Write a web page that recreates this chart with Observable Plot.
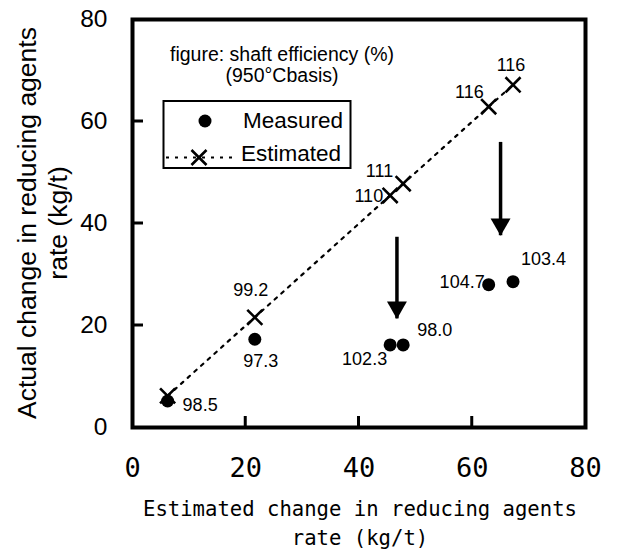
<!DOCTYPE html>
<html>
<head>
<meta charset="utf-8">
<script src="https://cdn.jsdelivr.net/npm/d3@7"></script>
<script src="https://cdn.jsdelivr.net/npm/@observablehq/plot@0.6"></script>
<style>
  html, body { margin: 0; padding: 0; background: #fff; }
  #chart { width: 618px; height: 551px; }
  #chart svg { display: block; }
</style>
</head>
<body>
<div id="chart"></div>
<script>
// Change in reducing agents rate (kg/t): estimated (x) against actual (y)
const estimated = [6.2, 21.6, 45.5, 47.8, 62.9, 67.2];
const measured = [5.2, 17.3, 16.2, 16.2, 28.0, 28.6];

// Shaft efficiency (%) (950°C basis) written beside each point
const estimatedEfficiency = [null, 99.2, 110, 111, 116, 116];
const measuredEfficiency = [98.5, 97.3, 102.3, 98.0, 104.7, 103.4];

// Downward arrows from the estimated line to the measured points
const arrowX = [46.7, 65.0];
const arrowFrom = [37.3, 55.9];
const arrowTo = [21.3, 37.6];

const xTicks = [0, 20, 40, 60, 80];
const yTicks = [0, 20, 40, 60, 80];
const innerTicks = [20, 40, 60];

const xTitle = ["Estimated change in reducing agents", "rate (kg/t)"];
const yTitle = ["Actual change in reducing agents", "rate (kg/t)"];
const noteLines = ["figure: shaft efficiency (%)", "(950°Cbasis)"];
const seriesNames = ["Measured", "Estimated"];

// label placement around each point: [dx, dy to baseline, anchor]
const estimatedLabelPlace = [null, [-4, -21, "middle"], [-7, 7, "end"], [-10, -7, "end"], [-5, -9, "end"], [-2, -14, "middle"]];
const measuredLabelPlace = [[15, 10, "start"], [6, 28, "middle"], [-3, 20, "end"], [14, -9, "start"], [-4, 3, "end"], [8, -17, "start"]];

const estRows = estimated.map((v, i) => ({x: v, y: v, eff: estimatedEfficiency[i]}));
const meaRows = estimated.map((v, i) => ({x: v, y: measured[i], eff: measuredEfficiency[i]}));
const arrows = arrowX.map((x, i) => ({x, y1: arrowFrom[i], y2: arrowTo[i]}));

const ARIAL = "'Liberation Sans', Arial, sans-serif";
const GOTHIC = "'DejaVu Sans Mono', monospace";

const W = 618, H = 551;
const M = {left: 132, right: 33, top: 19, bottom: 124};
const TICK = 11;

const labelMarks = [];
estRows.forEach((d, i) => {
  const p = estimatedLabelPlace[i];
  if (d.eff == null || !p) return;
  labelMarks.push(Plot.text([d], {x: "x", y: "y", text: (r) => String(r.eff), dx: p[0], dy: p[1], textAnchor: p[2], lineAnchor: "bottom", fontSize: 18, fontFamily: ARIAL, fill: "black"}));
});
meaRows.forEach((d, i) => {
  const p = measuredLabelPlace[i];
  labelMarks.push(Plot.text([d], {x: "x", y: "y", text: (r) => r.eff.toFixed(1), dx: p[0], dy: p[1], textAnchor: p[2], lineAnchor: "bottom", fontSize: 18, fontFamily: ARIAL, fill: "black"}));
});

const plot = Plot.plot({
  width: W,
  height: H,
  marginLeft: M.left,
  marginRight: M.right,
  marginTop: M.top,
  marginBottom: M.bottom,
  style: {background: "white", color: "black", fontFamily: ARIAL},
  x: {domain: [0, 80]},
  y: {domain: [0, 80]},
  marks: [
    // axis numbers
    Plot.axisY(yTicks, {anchor: "left", tickSize: 0, tickPadding: 25, fontSize: 24.5, fontFamily: ARIAL, label: null}),
    Plot.axisX(xTicks, {anchor: "bottom", tickSize: 0, tickPadding: 30, fontSize: 27, fontFamily: GOTHIC, label: null}),
    // estimated line
    Plot.line(estRows, {x: "x", y: "y", stroke: "black", strokeWidth: 2.2, strokeDasharray: "3,6"}),
    Plot.dot(estRows, {x: "x", y: "y", symbol: "times", r: 6.9, stroke: "black", strokeWidth: 2.6}),
    Plot.dot(meaRows, {x: "x", y: "y", symbol: "circle", r: 6.5, fill: "black", stroke: "none"}),
    // arrows
    Plot.ruleX(arrows, {x: "x", y1: "y1", y2: "y2", stroke: "black", strokeWidth: 3.5}),
    Plot.dot(arrows, {x: "x", y: "y2", symbol: "triangle", r: 7.4, rotate: 180, dy: -11.5, fill: "black", stroke: "none"}),
    ...labelMarks,
    Plot.frame({stroke: "black", strokeWidth: 4})
  ]
});

document.getElementById("chart").appendChild(plot);

const svg = d3.select(plot);
const sx = plot.scale("x");
const sy = plot.scale("y");
const left = sx.apply(0), bottom = sy.apply(0);

// short tick marks pointing into the frame, placed with the chart's scales
const tg = svg.append("g").attr("stroke", "black").attr("stroke-width", 3);
innerTicks.forEach((v) => {
  tg.append("line").attr("x1", left).attr("x2", left + TICK).attr("y1", sy.apply(v)).attr("y2", sy.apply(v));
  tg.append("line").attr("x1", sx.apply(v)).attr("x2", sx.apply(v)).attr("y1", bottom).attr("y2", bottom - TICK);
});

// axis titles, note and in-frame legend
const yT = svg.append("g").attr("font-family", ARIAL).attr("font-size", 26.5).attr("text-anchor", "middle").attr("fill", "black");
yTitle.forEach((t, i) => {
  yT.append("text").attr("transform", `translate(${35.5 + i * 31},223) rotate(-90)`).text(t);
});

const xT = svg.append("g").attr("font-family", GOTHIC).attr("font-size", 20.6).attr("text-anchor", "middle").attr("fill", "black");
xTitle.forEach((t, i) => {
  xT.append("text").attr("x", 360).attr("y", 516 + i * 29).text(t);
});

const note = svg.append("g").attr("font-family", ARIAL).attr("font-size", 19.5).attr("text-anchor", "middle").attr("fill", "black");
noteLines.forEach((t, i) => {
  note.append("text").attr("x", 282).attr("y", 61 + i * 21).text(t);
});

const lg = svg.append("g");
lg.append("rect").attr("x", 163.5).attr("y", 101).attr("width", 187).attr("height", 67)
  .attr("fill", "white").attr("stroke", "black").attr("stroke-width", 2);
lg.append("circle").attr("cx", 205).attr("cy", 121).attr("r", 6.5).attr("fill", "black");
lg.append("line").attr("x1", 166).attr("x2", 238).attr("y1", 157.5).attr("y2", 157.5)
  .attr("stroke", "black").attr("stroke-width", 2.2).attr("stroke-dasharray", "3,6");
lg.append("path").attr("transform", "translate(199,157.5)")
  .attr("d", d3.symbol(d3.symbolTimes, Math.PI * 6.9 * 6.9)())
  .attr("fill", "none").attr("stroke", "black").attr("stroke-width", 2.6);
const lgText = lg.append("g").attr("font-family", ARIAL).attr("font-size", 22.5).attr("text-anchor", "start").attr("fill", "black");
lgText.append("text").attr("x", 243).attr("y", 128).text(seriesNames[0]);
lgText.append("text").attr("x", 241).attr("y", 161).text(seriesNames[1]);
</script>
</body>
</html>
